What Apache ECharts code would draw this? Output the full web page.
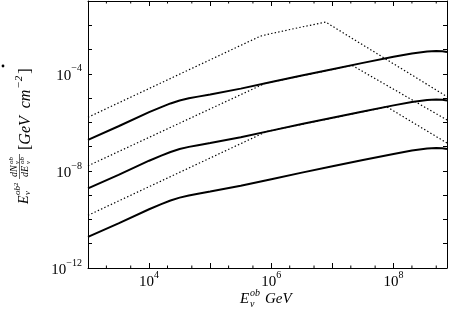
<!DOCTYPE html>
<html>
<head>
<meta charset="utf-8">
<script src="https://cdn.jsdelivr.net/npm/echarts@6/dist/echarts.min.js"></script>
<style>
  html, body { margin: 0; padding: 0; background: #fff; }
  #chart { width: 450px; height: 311px; }
</style>
</head>
<body>
<div id="chart"></div>
<script>
// ---------------- data ----------------
const X_MIN = 1e3;
const X_MAX = 7.5e8;
const Y_MIN = 1e-12;
const Y_MAX = 1e-1;

// energies (GeV) for the solid curves
const E_SOLID = [1e3, 3.16e3, 1e4, 1.58e4, 2.24e4, 3.16e4, 4.47e4, 6.31e4, 1e5, 3.16e5, 1e6, 3.16e6, 1e7, 3.16e7, 1e8, 2e8, 3.55e8, 5e8, 6.3e8, 7.5e8];
const F_SOLID_1 = [1.905e-7, 6.92e-7, 2.63e-6, 4.27e-6, 6.03e-6, 7.94e-6, 9.77e-6, 1.148e-5, 1.413e-5, 2.455e-5, 4.57e-5, 8.51e-5, 1.55e-4, 2.82e-4, 5.01e-4, 6.92e-4, 8.32e-4, 8.71e-4, 8.51e-4, 7.94e-4];
const F_SOLID_2 = [1.905e-9, 6.92e-9, 2.63e-8, 4.27e-8, 6.03e-8, 7.94e-8, 9.77e-8, 1.148e-7, 1.413e-7, 2.455e-7, 4.57e-7, 8.51e-7, 1.55e-6, 2.82e-6, 5.01e-6, 6.92e-6, 8.32e-6, 8.71e-6, 8.51e-6, 7.94e-6];
const F_SOLID_3 = [1.905e-11, 6.92e-11, 2.63e-10, 4.27e-10, 6.03e-10, 7.94e-10, 9.77e-10, 1.148e-9, 1.413e-9, 2.455e-9, 4.57e-9, 8.51e-9, 1.55e-8, 2.82e-8, 5.01e-8, 6.92e-8, 8.32e-8, 8.71e-8, 8.51e-8, 7.94e-8];

// dotted curves
const E_DOT_1 = [1e3, 6.6e5, 1e6, 3.16e6, 7.76e6, 7.5e8];
const F_DOT_1 = [1.62e-6, 3.55e-3, 4.57e-3, 8.51e-3, 1.35e-2, 1.15e-5];
const E_DOT_2 = [1e3, 7.94e5, 3.16e6, 1e7, 2.09e7, 7.5e8];
const F_DOT_2 = [1.62e-8, 4.07e-5, 8.32e-5, 1.51e-4, 2.24e-4, 1.26e-6];
const E_DOT_3 = [1e3, 8.5e5, 3.16e6, 1e7, 3.16e7, 7.76e7, 7.5e8];
const F_DOT_3 = [1.48e-10, 4.27e-7, 8.32e-7, 1.51e-6, 2.75e-6, 4.37e-6, 1.41e-7];

// x-axis minor tick positions (2 and 5 of each decade)
const X_MINOR_TICKS = [2e3, 5e3, 2e4, 5e4, 2e5, 5e5, 2e6, 5e6, 2e7, 5e7, 2e8, 5e8];
// exponents that carry a label
const X_LABEL_EXP = [4, 6, 8];
const Y_LABEL_EXP = [-4, -8, -12];

// ---------------- chart ----------------
const SERIF = '"Liberation Serif", "DejaVu Serif", serif';
const zip = (xs, ys) => xs.map((x, i) => [x, ys[i]]);

function expOf(v) {
  const e = Math.log10(v);
  const r = Math.round(e);
  return Math.abs(e - r) < 1e-6 ? r : null;
}
const richLabels = {
  b: { fontFamily: SERIF, fontSize: 15, color: '#000', lineHeight: 20, verticalAlign: 'bottom' },
  s: { fontFamily: SERIF, fontSize: 10, color: '#000', lineHeight: 12, verticalAlign: 'top' }
};

const chart = echarts.init(document.getElementById('chart'), null, { renderer: 'canvas' });

function solid(data) {
  return { type: 'line', data, symbol: 'none', smooth: false, silent: true,
    lineStyle: { color: '#000', width: 2 }, z: 3 };
}
function dotted(data) {
  return { type: 'line', data, symbol: 'none', smooth: false, silent: true,
    lineStyle: { color: '#000', width: 1.2, type: [1.4, 2.2] }, z: 2 };
}

const axisCommon = {
  type: 'log', logBase: 10, interval: 1,
  axisLine: { show: true, onZero: false, lineStyle: { color: '#000', width: 1 } },
  splitLine: { show: false },
  axisTick: { show: true, inside: true, length: 5, lineStyle: { color: '#000', width: 1 } },
  minorTick: { show: false }
};

const option = {
  animation: false,
  backgroundColor: '#fff',
  grid: { left: 88, right: 1, top: 1, bottom: 43, containLabel: false },
  xAxis: [
    Object.assign({}, axisCommon, {
      min: X_MIN, max: X_MAX, position: 'bottom',
      axisLabel: {
        show: true, margin: 2, rich: richLabels, hideOverlap: false,
        formatter: v => { const e = expOf(v); return (e !== null && X_LABEL_EXP.includes(e)) ? '{b|10}{s|' + e + '}' : ''; }
      }
    }),
    Object.assign({}, axisCommon, {
      min: X_MIN, max: X_MAX, position: 'top', axisLabel: { show: false }
    })
  ],
  yAxis: [
    Object.assign({}, axisCommon, {
      min: Y_MIN, max: Y_MAX, position: 'left',
      axisTick: { show: true, inside: true, length: 4, lineStyle: { color: '#000', width: 1 } },
      axisLabel: {
        show: true, margin: 6, rich: richLabels, hideOverlap: false,
        formatter: v => { const e = expOf(v); return (e !== null && Y_LABEL_EXP.includes(e)) ? '{b|10}{s|' + String(e).replace('-', '\u2212') + '}' : ''; }
      }
    }),
    Object.assign({}, axisCommon, {
      min: Y_MIN, max: Y_MAX, position: 'right',
      axisTick: { show: true, inside: true, length: 4, lineStyle: { color: '#000', width: 1 } },
      axisLabel: { show: false }
    })
  ],
  series: [
    dotted(zip(E_DOT_1, F_DOT_1)),
    dotted(zip(E_DOT_2, F_DOT_2)),
    dotted(zip(E_DOT_3, F_DOT_3)),
    solid(zip(E_SOLID, F_SOLID_1)),
    solid(zip(E_SOLID, F_SOLID_2)),
    solid(zip(E_SOLID, F_SOLID_3)),
    {
      type: 'custom', silent: true, clip: false, z: 5,
      data: X_MINOR_TICKS.map(v => [v, Y_MIN]),
      encode: { x: 0, y: 1 },
      renderItem: (params, api) => {
        const v = api.value(0);
        const b = api.coord([v, Y_MIN]);
        const t = api.coord([v, Y_MAX]);
        const st = { stroke: '#000', lineWidth: 1 };
        return { type: 'group', children: [
          { type: 'line', shape: { x1: b[0], y1: b[1], x2: b[0], y2: b[1] - 2.5 }, style: st },
          { type: 'line', shape: { x1: t[0], y1: t[1], x2: t[0], y2: t[1] + 2.5 }, style: st }
        ]};
      }
    }
  ],
  graphic: [
    // stray dot at left of the reference figure
    { type: 'circle', shape: { cx: 3, cy: 66, r: 1.4 }, style: { fill: '#000' } },
    // x-axis title
    { type: 'group', x: 240, y: 299, children: [
      { type: 'text', x: 0, y: 0, style: { text: 'E', font: 'italic 15px ' + SERIF, fill: '#000', verticalAlign: 'middle' } },
      { type: 'text', x: 10, y: -6, style: { text: 'ob', font: 'italic 10px ' + SERIF, fill: '#000', verticalAlign: 'middle' } },
      { type: 'text', x: 10, y: 5, style: { text: 'ν', font: 'italic 10px ' + SERIF, fill: '#000', verticalAlign: 'middle' } },
      { type: 'text', x: 25, y: 0, style: { text: 'GeV', font: 'italic 15px ' + SERIF, fill: '#000', verticalAlign: 'middle' } }
    ]},
    // y-axis title (rotated)
    { type: 'group', x: 24, y: 204, rotation: Math.PI / 2, children: [
      { type: 'text', x: 0, y: 0, style: { text: 'E', font: 'italic 14px ' + SERIF, fill: '#000', verticalAlign: 'middle' } },
      { type: 'text', x: 9, y: -6, style: { text: 'ob', font: 'italic 9px ' + SERIF, fill: '#000', verticalAlign: 'middle' } },
      { type: 'text', x: 18, y: -8, style: { text: '2', font: '7px ' + SERIF, fill: '#000', verticalAlign: 'middle' } },
      { type: 'text', x: 9, y: 4, style: { text: 'ν', font: 'italic 9px ' + SERIF, fill: '#000', verticalAlign: 'middle' } },
      // fraction
      { type: 'text', x: 27, y: -10, style: { text: 'dN', font: 'italic 10px ' + SERIF, fill: '#000', verticalAlign: 'middle' } },
      { type: 'text', x: 40, y: -13, style: { text: 'ob', font: 'italic 7px ' + SERIF, fill: '#000', verticalAlign: 'middle' } },
      { type: 'text', x: 40, y: -7, style: { text: 'ν', font: 'italic 7px ' + SERIF, fill: '#000', verticalAlign: 'middle' } },
      { type: 'line', shape: { x1: 25, y1: -4.5, x2: 50, y2: -4.5 }, style: { stroke: '#000', lineWidth: 0.6 } },
      { type: 'text', x: 27, y: 1, style: { text: 'dE', font: 'italic 10px ' + SERIF, fill: '#000', verticalAlign: 'middle' } },
      { type: 'text', x: 40, y: -2, style: { text: 'ob', font: 'italic 7px ' + SERIF, fill: '#000', verticalAlign: 'middle' } },
      { type: 'text', x: 40, y: 4, style: { text: 'ν', font: 'italic 7px ' + SERIF, fill: '#000', verticalAlign: 'middle' } },
      // [GeV cm^-2]
      { type: 'text', x: 54, y: 0, style: {
          text: '{n|[}{i|GeV  cm}{s|\u22122}{n|]}',
          verticalAlign: 'middle',
          rich: {
            n: { font: '16px ' + SERIF, fill: '#000', lineHeight: 20, verticalAlign: 'bottom' },
            i: { font: 'italic 16px ' + SERIF, fill: '#000', lineHeight: 20, verticalAlign: 'bottom' },
            s: { font: 'italic 11px ' + SERIF, fill: '#000', lineHeight: 12, verticalAlign: 'top', padding: [0, 2, 0, 1] }
          }
      } }
    ]}
  ]
};
chart.setOption(option);
</script>
</body>
</html>
